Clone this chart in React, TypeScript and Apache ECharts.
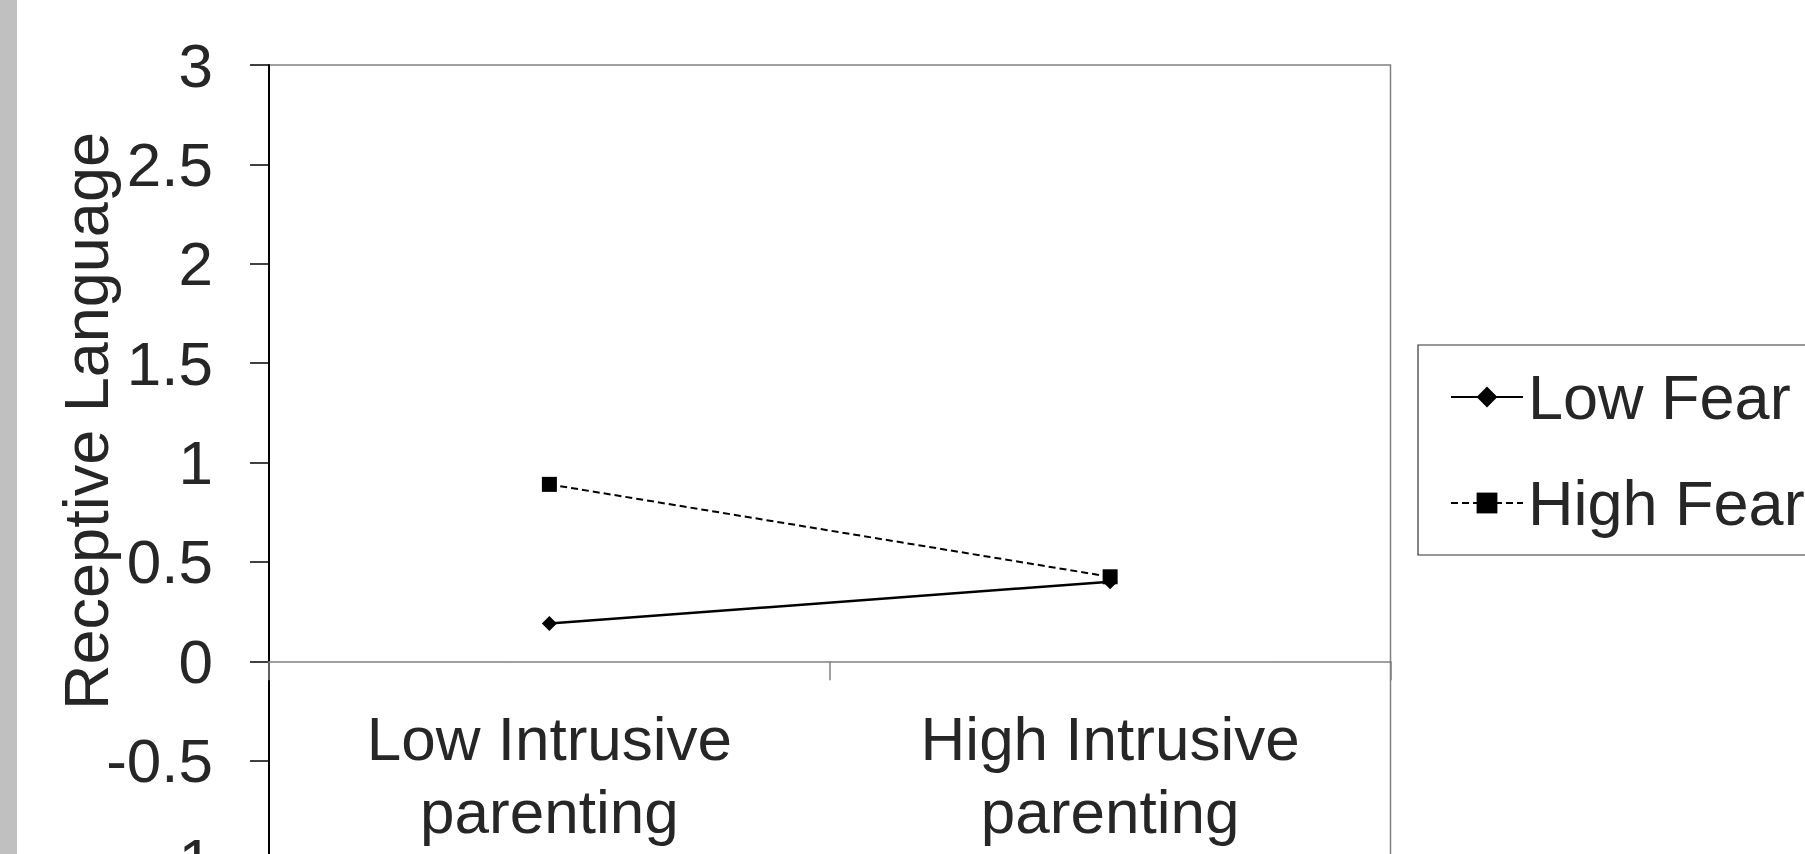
import React, { useEffect, useRef } from "react";
import * as echarts from "echarts";

const categories = ["Low Intrusive\nparenting", "High Intrusive\nparenting"];
const seriesNames = ["Low Fear", "High Fear"];
const lowFear = [0.19, 0.4];
const highFear = [0.89, 0.425];
const yMin = -1;
const yMax = 3;
const yInterval = 0.5;
const yAxisTitle = "Receptive Language";

const FONT = "'Liberation Sans', Arial, sans-serif";
const TEXT = "#262626";

export default function App() {
  const ref = useRef<HTMLDivElement>(null);
  useEffect(() => {
    document.body.style.overflow = "hidden";
    const chart = echarts.init(ref.current!, undefined, { renderer: "svg" });
    chart.setOption({
      animation: false,
      backgroundColor: "#ffffff",
      textStyle: { fontFamily: FONT },
      grid: {
        left: 269,
        top: 65,
        right: 414.5,
        bottom: 40,
        show: true,
        borderColor: "#808080",
        borderWidth: 1.5,
        backgroundColor: "transparent",
        containLabel: false,
        outerBoundsMode: "none",
      },
      legend: {
        orient: "vertical",
        left: 1418,
        top: 345,
        data: seriesNames,
        itemWidth: 72,
        itemHeight: 26,
        itemGap: 36,
        padding: [17, 30, 17, 32],
        borderColor: "#333333",
        borderWidth: 1.2,
        textStyle: { fontSize: 63, color: TEXT, lineHeight: 70, fontFamily: FONT },
      },
      xAxis: {
        type: "category",
        data: categories,
        boundaryGap: true,
        axisLine: { onZero: true, lineStyle: { color: "#808080", width: 1.5 } },
        axisTick: { show: true, length: 19, lineStyle: { color: "#808080", width: 1.5 } },
        axisLabel: {
          fontSize: 62,
          lineHeight: 73,
          margin: -158.5,
          color: TEXT,
          fontFamily: FONT,
        },
        splitLine: { show: false },
      },
      yAxis: {
        type: "value",
        min: yMin,
        max: yMax,
        interval: yInterval,
        axisLine: { show: true, onZero: false, lineStyle: { color: "#000000", width: 2 } },
        axisTick: { show: true, length: 19, lineStyle: { color: "#000000", width: 1.5 } },
        axisLabel: { fontSize: 62, margin: 56, color: TEXT, fontFamily: FONT },
        splitLine: { show: false },
      },
      graphic: [
        {
          type: "rect",
          shape: { x: 0, y: 0, width: 17, height: 900 },
          style: { fill: "#c0c0c0" },
          silent: true,
        },
        {
          type: "text",
          x: 86,
          y: 421,
          rotation: Math.PI / 2,
          style: {
            text: yAxisTitle,
            fontSize: 63,
            fill: TEXT,
            fontFamily: FONT,
            textAlign: "center",
            textVerticalAlign: "middle",
          },
        },
      ],
      series: [
        {
          name: seriesNames[0],
          type: "line",
          data: lowFear,
          symbol: "diamond",
          symbolSize: 15,
          lineStyle: { color: "#000000", width: 2.5, type: "solid" },
          itemStyle: { color: "#000000" },
        },
        {
          name: seriesNames[1],
          type: "line",
          data: highFear,
          symbol: "rect",
          symbolSize: 15,
          lineStyle: { color: "#000000", width: 2, type: [7, 4] },
          itemStyle: { color: "#000000" },
        },
      ],
    });
    return () => chart.dispose();
  }, []);
  return (
    <div
      ref={ref}
      style={{ position: "fixed", left: 0, top: 0, width: 1805, height: 900 }}
    />
  );
}
